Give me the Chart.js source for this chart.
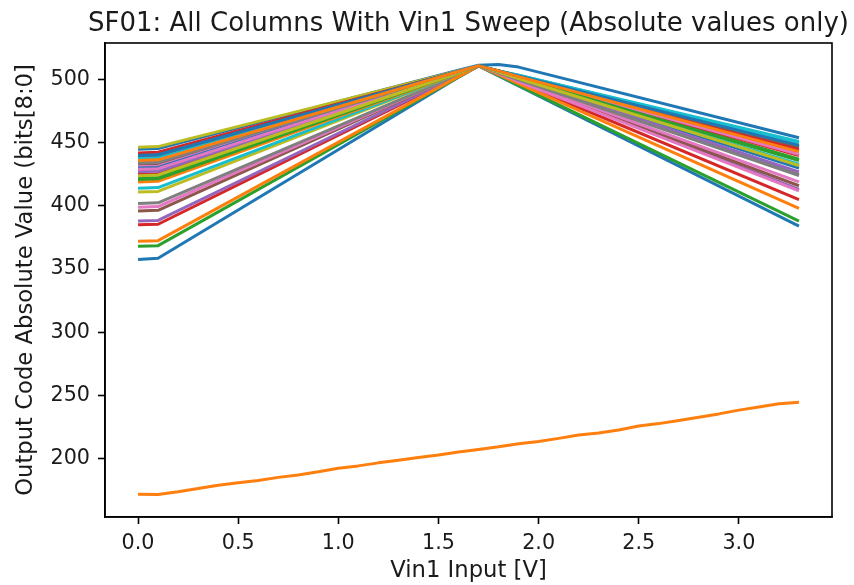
<!DOCTYPE html>
<html>
<head>
<meta charset="utf-8">
<script src="https://cdn.jsdelivr.net/npm/chart.js@4.4.1/dist/chart.umd.min.js"></script>
<style>
  html, body { margin: 0; padding: 0; background: #fff; }
  #wrap { width: 854px; height: 585px; }
</style>
</head>
<body>
<div id="wrap"><canvas id="plot" width="854" height="585"></canvas></div>
<script>
// Vin1 sweep points where the column curves bend
const vin = [0, 0.1, 1.6, 1.7, 1.8, 1.9, 3.3];

// output code per column
const col00 = [357.5, 358.5, 502, 511, 503, 495, 384];
const col02 = [368, 368.5, 502, 511, 503.5, 495.5, 388];
const col03 = [385, 385.5, 503, 511, 504.5, 498, 405];
const col04 = [388, 388.5, 503.5, 511, 505, 499, 413];
const col05 = [396, 396.5, 504, 511, 505, 499, 416];
const col06 = [399, 399.5, 504, 511, 505.5, 499.5, 419];
const col07 = [402, 402.5, 504, 511, 505.5, 500, 425];
const col08 = [411, 411.5, 505, 511, 506, 501, 432];
const col09 = [414, 414.5, 505, 511, 506, 501, 433];
const col10 = [445, 445.5, 507.5, 511.5, 512, 510, 454];
const col11 = [372, 372.5, 502.5, 511, 504, 497, 398];
const col12 = [422, 422.5, 505.5, 511, 506.5, 502, 437];
const col13 = [425, 425.5, 505.5, 511, 506.5, 502, 440];
const col14 = [428, 428.5, 506, 511, 506, 501, 431];
const col15 = [433, 433.5, 506, 511, 507, 503, 447];
const col16 = [431, 431.5, 506, 511, 506.5, 502, 441];
const col17 = [435, 435.5, 506, 511, 507, 503, 446];
const col18 = [446.5, 447, 507, 511, 507, 503, 449];
const col19 = [438, 438.5, 506.5, 511, 507, 503.5, 451];
const col20 = [430, 430.5, 506, 511, 506, 501, 430];
const col21 = [419, 419.5, 505, 511, 507, 502.5, 444];
const col22 = [421, 421.5, 505.5, 511, 506.5, 501.5, 436];
const col23 = [442, 442.5, 506.5, 511, 507, 503, 445];
const col24 = [427, 427.5, 506, 511, 506, 500.5, 427];
const col25 = [440, 440.5, 506.5, 511, 507, 503, 447];
const col26 = [429, 429.5, 506, 511, 505, 498.5, 412];
const col27 = [434, 434.5, 506, 511, 505.5, 500, 424];
const col28 = [424, 424.5, 505.5, 511, 506, 501, 432];
const col29 = [437, 437.5, 506.5, 511, 507, 503.5, 450];
const col30 = [440, 440.5, 506.5, 511, 507, 503, 448];
const col31 = [436, 436.5, 506.5, 511, 507, 502.5, 443];

// column 1 is the odd one, sampled every 0.1 V
const vinFine = [0, 0.1, 0.2, 0.3, 0.4, 0.5, 0.6, 0.7, 0.8, 0.9, 1.0, 1.1, 1.2, 1.3, 1.4, 1.5, 1.6,
                 1.7, 1.8, 1.9, 2.0, 2.1, 2.2, 2.3, 2.4, 2.5, 2.6, 2.7, 2.8, 2.9, 3.0, 3.1, 3.2, 3.3];
const col01 = [171.5, 171.4, 173.5, 176.0, 178.6, 180.6, 182.4, 184.9, 186.8, 189.3, 192.2, 194.0,
               196.4, 198.4, 200.6, 202.6, 205.0, 207.0, 209.1, 211.6, 213.3, 215.8, 218.4, 220.0,
               222.4, 225.6, 227.5, 229.9, 232.6, 235.2, 238.2, 240.6, 243.2, 244.5];

const columns = [col00, col01, col02, col03, col04, col05, col06, col07, col08, col09,
                 col10, col11, col12, col13, col14, col15, col16, col17, col18, col19,
                 col20, col21, col22, col23, col24, col25, col26, col27, col28, col29,
                 col30, col31];

const xTicks = [0, 0.5, 1.0, 1.5, 2.0, 2.5, 3.0];
const yTicks = [200, 250, 300, 350, 400, 450, 500];

// matplotlib tab10
const tab10 = ['#1f77b4', '#ff7f0e', '#2ca02c', '#d62728', '#9467bd',
               '#8c564b', '#e377c2', '#7f7f7f', '#bcbd22', '#17becf'];

const FONT = "'DejaVu Sans', 'Liberation Sans', sans-serif";
const TEXT = '#1a1a1a';

const datasets = columns.map((ys, i) => {
  const xs = ys.length === vinFine.length ? vinFine : vin;
  return {
    label: 'col' + i,
    data: ys.map((y, j) => ({ x: xs[j], y })),
    borderColor: tab10[i % 10],
    backgroundColor: tab10[i % 10],
    borderWidth: 3,
    pointRadius: 0,
    tension: 0,
    fill: false,
    borderJoinStyle: 'round',
    order: columns.length - i   // later columns end up on top, like matplotlib
  };
});

// full box round the axes + title centred on the plot area
const framePlugin = {
  id: 'frame',
  afterDatasetsDraw(chart) {
    const { ctx, chartArea: a } = chart;
    ctx.save();
    ctx.strokeStyle = '#000';
    ctx.lineWidth = 1.6;
    ctx.strokeRect(a.left, a.top, a.right - a.left, a.bottom - a.top);
    ctx.restore();
  },
  afterDraw(chart) {
    const { ctx, chartArea: a } = chart;
    ctx.save();
    ctx.fillStyle = TEXT;
    ctx.font = '26px ' + FONT;
    ctx.textAlign = 'center';
    ctx.textBaseline = 'alphabetic';
    ctx.fillText('SF01: All Columns With Vin1 Sweep (Absolute values only)', (a.left + a.right) / 2, 31);
    ctx.restore();
  }
};

new Chart(document.getElementById('plot'), {
  type: 'line',
  data: { datasets },
  plugins: [framePlugin],
  options: {
    responsive: false,
    animation: false,
    layout: { padding: { left: 0, top: 43, right: 22, bottom: 0 } },
    plugins: {
      legend: { display: false },
      title: { display: false },
      tooltip: { enabled: false }
    },
    scales: {
      x: {
        type: 'linear',
        min: -0.165,
        max: 3.465,
        afterFit: s => { s.height = 68; },
        afterBuildTicks: s => { s.ticks = xTicks.map(v => ({ value: v })); },
        ticks: {
          font: { family: FONT, size: 20.7 },
          color: TEXT,
          padding: 7,
          maxRotation: 0,
          callback: v => v.toFixed(1)
        },
        grid: { drawOnChartArea: false, drawTicks: true, tickLength: 7, tickColor: '#000', tickWidth: 1.6 },
        border: { display: true, color: '#000', width: 1.6 },
        title: {
          display: true,
          text: 'Vin1 Input [V]',
          color: TEXT,
          font: { family: FONT, size: 22.7 },
          padding: { top: 0, bottom: 0 }
        }
      },
      y: {
        type: 'linear',
        min: 153.5,
        max: 529.1,
        afterFit: s => { s.width = 105; },
        afterBuildTicks: s => { s.ticks = yTicks.map(v => ({ value: v })); },
        ticks: {
          font: { family: FONT, size: 20.7 },
          color: TEXT,
          padding: 8
        },
        grid: { drawOnChartArea: false, drawTicks: true, tickLength: 7, tickColor: '#000', tickWidth: 1.6 },
        border: { display: true, color: '#000', width: 1.6 },
        title: {
          display: true,
          text: 'Output Code Absolute Value (bits[8:0]',
          color: TEXT,
          font: { family: FONT, size: 22.7 },
          padding: { top: 12, bottom: 0 }
        }
      }
    }
  }
});
</script>
</body>
</html>
